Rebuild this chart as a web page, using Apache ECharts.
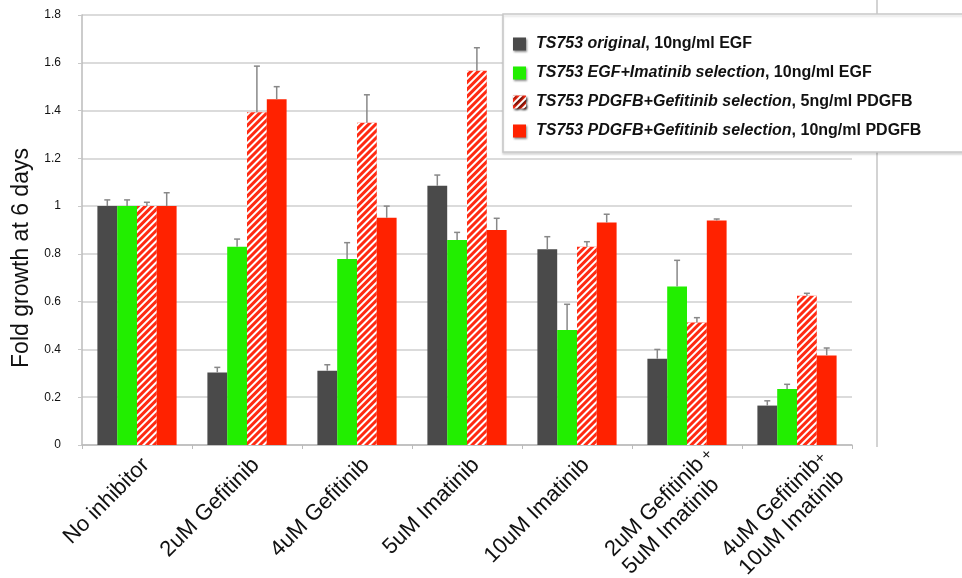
<!DOCTYPE html>
<html>
<head>
<meta charset="utf-8">
<script src="https://cdn.jsdelivr.net/npm/echarts@6/dist/echarts.min.js"></script>
<style>html,body{margin:0;padding:0;background:#fff;}#c{width:962px;height:578px;}</style>
</head>
<body>
<div id="c"></div>
<script>
const categories = ['No inhibitor', '2uM Gefitinib', '4uM Gefitinib', '5uM Imatinib', '10uM Imatinib', '2uM Gefitinib +\n5uM Imatinib', '4uM Gefitinib +\n10uM Imatinib'];
const yTicks = [0, 0.2, 0.4, 0.6, 0.8, 1.0, 1.2, 1.4, 1.6, 1.8];
const legendItalic = ['TS753 original', 'TS753 EGF+Imatinib selection', 'TS753 PDGFB+Gefitinib selection', 'TS753 PDGFB+Gefitinib selection'];
const legendRest = [', 10ng/ml EGF', ', 10ng/ml EGF', ', 5ng/ml PDGFB', ', 10ng/ml PDGFB'];

const originalEGF = [1.0, 0.304, 0.311, 1.085, 0.819, 0.361, 0.165];
const originalEGFTop = [1.026, 0.325, 0.336, 1.13, 0.872, 0.40, 0.185];
const egfImatinib = [1.0, 0.83, 0.779, 0.858, 0.481, 0.664, 0.234];
const egfImatinibTop = [1.026, 0.862, 0.847, 0.890, 0.589, 0.773, 0.254];
const pdgfb5 = [1.0, 1.393, 1.349, 1.567, 0.830, 0.513, 0.625];
const pdgfb5Top = [1.016, 1.586, 1.466, 1.663, 0.851, 0.533, 0.635];
const pdgfb10 = [1.0, 1.447, 0.951, 0.90, 0.931, 0.940, 0.375];
const pdgfb10Top = [1.056, 1.50, 1.0, 0.949, 0.966, 0.946, 0.406];

const values = [originalEGF, egfImatinib, pdgfb5, pdgfb10];
const tops = [originalEGFTop, egfImatinibTop, pdgfb5Top, pdgfb10Top];
const names = legendItalic.map((t, i) => t + legendRest[i]);
const colors = ['#4a4a4a', '#22ee00', '#ff2a12', '#ff2200'];

const BAR_FRAC = 0.18;
const series = [];
values.forEach((vals, k) => {
  const s = {
    name: names[k],
    type: 'bar',
    data: vals,
    barWidth: (BAR_FRAC * 100) + '%',
    barGap: '0%',
    itemStyle: { color: colors[k] },
    z: 2
  };
  if (k === 2) {
    s.itemStyle.decal = {
      symbol: 'rect',
      symbolSize: 1,
      color: '#ffffff',
      dashArrayX: [1, 0],
      dashArrayY: [2, 2.2],
      rotation: -Math.PI / 4
    };
  }
  series.push(s);
});
values.forEach((vals, k) => {
  series.push({
    type: 'custom',
    name: 'err' + k,
    z: 3,
    silent: true,
    data: vals.map((v, i) => [i, v, tops[k][i]]),
    renderItem: function (params, api) {
      const x = api.value(0), v = api.value(1), t = api.value(2);
      const p0 = api.coord([x, v]);
      const p1 = api.coord([x, t]);
      const band = api.size([1, 0])[0];
      const cx = p0[0] + (k - 1.5) * band * BAR_FRAC;
      const st = { stroke: '#888888', lineWidth: 1.5 };
      return {
        type: 'group',
        children: [
          { type: 'line', shape: { x1: cx, y1: p0[1], x2: cx, y2: p1[1] }, style: st },
          { type: 'line', shape: { x1: cx - 3, y1: p1[1], x2: cx + 3, y2: p1[1] }, style: st }
        ]
      };
    }
  });
});

const chart = echarts.init(document.getElementById('c'), null, { renderer: 'canvas' });
chart.setOption({
  animation: false,
  backgroundColor: '#ffffff',
  textStyle: { fontFamily: 'Liberation Sans, Arial, sans-serif' },
  grid: { left: 82, right: 110, top: 15, bottom: 133, containLabel: false, outerBoundsMode: 'none' },
  xAxis: {
    type: 'category',
    data: categories,
    axisLine: { lineStyle: { color: '#bbbbbb', width: 1.5 } },
    axisTick: { show: true, length: 4, lineStyle: { color: '#bbbbbb' } },
    axisLabel: {
      rotate: 45,
      interval: 0,
      margin: 8,
      align: 'right',
      verticalAlign: 'top',
      color: '#111',
      formatter: function (val, idx) {
        const lines = val.split('\n');
        if (lines.length === 1) return '{l|' + val + '}';
        const st = idx === 6 ? 'n' : 'm';
        const sp = idx === 6 ? 's8' : 's3';
        return '{' + sp + '| }\n' + lines.map(line => {
          if (line.endsWith(' +')) {
            return '{' + st + '|' + line.slice(0, -2) + '}{p|  +}';
          }
          return '{' + st + '|' + line + '}';
        }).join('\n');
      },
      rich: {
        l: { fontSize: 22, lineHeight: 25, align: 'left', color: '#111', fontFamily: 'Liberation Sans' },
        m: { fontSize: 22, lineHeight: 25, width: 125, align: 'left', color: '#111', fontFamily: 'Liberation Sans' },
        n: { fontSize: 22, lineHeight: 25, width: 121, align: 'left', color: '#111', fontFamily: 'Liberation Sans' },
        p: { fontSize: 16, lineHeight: 25, width: 1, align: 'left', color: '#111', fontFamily: 'Liberation Sans' },
        s3: { fontSize: 1, lineHeight: 3, width: 1, align: 'left' },
        s8: { fontSize: 1, lineHeight: 8, width: 1, align: 'left' }
      }
    }
  },
  yAxis: {
    type: 'value',
    min: 0,
    max: 1.8,
    interval: 0.2,
    axisLine: { show: true, lineStyle: { color: '#bbbbbb', width: 1.5 } },
    axisTick: { show: true, length: 4, lineStyle: { color: '#c8c8c8' } },
    splitLine: { lineStyle: { color: '#cfcfcf', width: 1.5 } },
    axisLabel: {
      margin: 21,
      fontSize: 12,
      color: '#111',
      formatter: function (v) {
        const m = yTicks.find(t => Math.abs(t - v) < 1e-9);
        return String(Math.round((m !== undefined ? m : v) * 10) / 10);
      }
    }
  },
  legend: {
    data: names,
    orient: 'vertical',
    left: 513,
    top: 36,
    padding: 0,
    itemWidth: 13,
    itemHeight: 13,
    itemGap: 13,
    z: 20,
    selectedMode: false,
    icon: 'rect',
    itemStyle: { shadowBlur: 2, shadowColor: 'rgba(0,0,0,0.45)', shadowOffsetX: 1, shadowOffsetY: 1 },
    formatter: function (name) {
      const i = names.indexOf(name);
      return '{i|' + legendItalic[i] + '}{n|' + legendRest[i] + '}';
    },
    textStyle: {
      padding: [0, 0, 0, 5],
      rich: {
        i: { fontSize: 16, fontWeight: 'bold', fontStyle: 'italic', color: '#111', fontFamily: 'Liberation Sans' },
        n: { fontSize: 16, fontWeight: 'bold', color: '#111', fontFamily: 'Liberation Sans' }
      }
    }
  },
  graphic: [
    {
      type: 'line', z: 5,
      shape: { x1: 877, y1: 0, x2: 877, y2: 447 },
      style: { stroke: '#c4c4c4', lineWidth: 1.5 }
    },
    {
      type: 'rect', z: 10,
      shape: { x: 503, y: 14, width: 470, height: 138 },
      style: { fill: '#ffffff', stroke: '#c8c8c8', lineWidth: 1.5, shadowBlur: 2, shadowColor: 'rgba(0,0,0,0.12)', shadowOffsetY: 2 }
    },
    {
      type: 'text', z: 10,
      x: 22, y: 258,
      rotation: Math.PI / 2,
      style: { text: 'Fold growth at 6 days', fontSize: 23, fontFamily: 'Liberation Sans', fill: '#111', textAlign: 'center', textVerticalAlign: 'middle' }
    }
  ],
  series: series
});
</script>
</body>
</html>
